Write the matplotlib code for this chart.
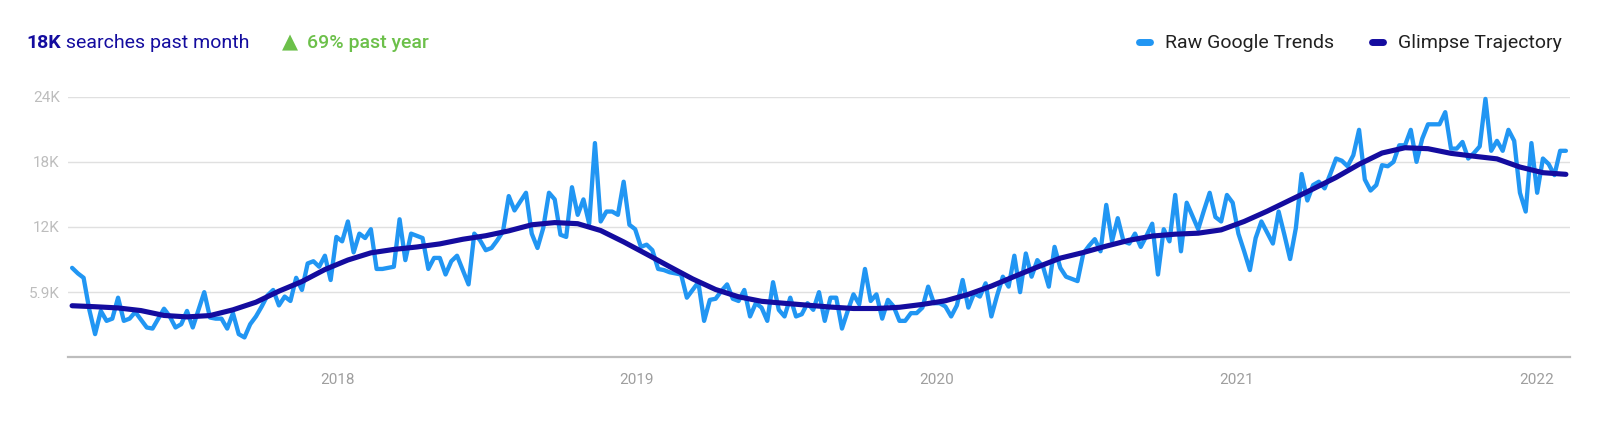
import matplotlib
matplotlib.use("Agg")
import matplotlib.pyplot as plt
from matplotlib.lines import Line2D
import pandas as pd

# ---------------- data (values in thousands of searches) ----------------
start_date = "2017-02-12"          # first weekly point
raw_k = [
    8.1, 7.6, 7.2, 4.3, 2.1, 4.2, 3.3, 3.5, 5.4, 3.3,
    3.5, 4.1, 3.4, 2.7, 2.6, 3.5, 4.4, 3.7, 2.7, 3.0,
    4.2, 2.7, 4.3, 5.9, 3.6, 3.5, 3.5, 2.6, 4.0, 2.1,
    1.8, 3.0, 3.7, 4.6, 5.6, 6.1, 4.7, 5.5, 5.1, 7.2,
    6.1, 8.5, 8.7, 8.2, 9.2, 7.0, 10.9, 10.5, 12.3, 9.5,
    11.2, 10.8, 11.6, 8.0, 8.0, 8.1, 8.2, 12.5, 8.8, 11.2,
    11.0, 10.8, 8.0, 9.0, 9.0, 7.5, 8.7, 9.2, 7.9, 6.6,
    11.2, 10.6, 9.7, 9.9, 10.6, 11.4, 14.6, 13.3, 14.1, 14.9,
    11.2, 9.9, 11.7, 14.9, 14.3, 11.1, 10.9, 15.4, 12.9, 14.3,
    12.1, 19.4, 12.3, 13.2, 13.2, 12.9, 15.9, 12.0, 11.6, 10.0,
    10.2, 9.7, 8.0, 7.9, 7.7, 7.6, 7.5, 5.4, 6.1, 6.8,
    3.3, 5.2, 5.3, 6.0, 6.6, 5.3, 5.1, 6.1, 3.7, 4.9,
    4.5, 3.3, 6.8, 4.3, 3.7, 5.4, 3.7, 3.9, 4.9, 4.3,
    5.9, 3.3, 5.4, 5.4, 2.6, 4.2, 5.7, 4.8, 8.0, 5.1,
    5.7, 3.5, 5.2, 4.6, 3.3, 3.3, 4.0, 4.0, 4.5, 6.4,
    4.9, 4.9, 4.6, 3.7, 4.7, 7.0, 4.5, 5.8, 5.5, 6.7,
    3.7, 5.6, 7.3, 6.4, 9.2, 5.9, 9.4, 7.3, 8.8, 8.2,
    6.4, 10.0, 8.1, 7.3, 7.1, 6.9, 9.4, 10.1, 10.7, 9.6,
    13.8, 10.5, 12.6, 10.5, 10.3, 11.2, 10.0, 11.0, 12.1, 7.5,
    11.6, 10.5, 14.7, 9.6, 14.0, 12.8, 11.6, 13.3, 14.9, 12.7,
    12.3, 14.7, 14.0, 11.2, 9.6, 7.9, 10.8, 12.3, 11.3, 10.3,
    13.2, 11.1, 8.9, 11.7, 16.6, 14.2, 15.6, 15.9, 15.3, 16.6,
    18.0, 17.8, 17.3, 18.3, 20.6, 16.1, 15.1, 15.6, 17.4, 17.3,
    17.7, 19.2, 19.2, 20.6, 17.7, 19.8, 21.1, 21.1, 21.1, 22.2,
    18.9, 18.9, 19.5, 18.0, 18.5, 19.1, 23.4, 18.7, 19.6, 18.7,
    20.6, 19.6, 14.9, 13.2, 19.4, 14.9, 18.0, 17.5, 16.5, 18.7, 18.7,
]
traj_step_weeks = 4
traj_k = [
    4.67, 4.58, 4.47, 4.23, 3.79, 3.66, 3.78, 4.30, 4.99, 5.99,
    6.86, 7.95, 8.81, 9.46, 9.77, 9.99, 10.27, 10.69, 11.01, 11.45,
    12.00, 12.20, 12.10, 11.48, 10.45, 9.34, 8.21, 7.10, 6.14, 5.48,
    5.07, 4.89, 4.72, 4.55, 4.42, 4.42, 4.53, 4.79, 5.12, 5.70,
    6.45, 7.32, 8.17, 8.98, 9.49, 10.07, 10.60, 10.98, 11.15, 11.24,
    11.54, 12.30, 13.23, 14.24, 15.25, 16.29, 17.48, 18.50, 18.98, 18.89,
    18.47, 18.21, 17.97, 17.23, 16.72, 16.57,
]
year_ticks = ["2018-01-01", "2019-01-01", "2020-01-01", "2021-01-01", "2022-01-01"]
year_labels = ["2018", "2019", "2020", "2021", "2022"]
y_ticks = [0, 5.9, 11.8, 17.7, 23.6]
y_labels = ["", "5.9K", "12K", "18K", "24K"]
header_value = "18K"
header_text = " searches past month"
growth_text = "69% past year"
series_names = ["Raw Google Trends", "Glimpse Trajectory"]

# ---------------- style ----------------
RAW_C = "#2196f3"
TRAJ_C = "#140c9f"
GREEN = "#6cc04a"
FONT = ["Roboto", "DejaVu Sans"]
plt.rcParams["font.family"] = FONT

W, H = 1600, 425
fig = plt.figure(figsize=(W / 100, H / 100), dpi=100)
fig.patch.set_facecolor("white")

ax_left, ax_right, ax_top, ax_bot = 68, 1570, 96.7, 357.3
ax = fig.add_axes([ax_left / W, 1 - ax_bot / H, (ax_right - ax_left) / W, (ax_bot - ax_top) / H])

dates = pd.date_range(start_date, periods=len(raw_k), freq="7D")
traj_dates = dates[::traj_step_weeks][:len(traj_k)]

ax.plot(dates, raw_k, color=RAW_C, lw=3.1, solid_joinstyle="round",
        solid_capstyle="round", clip_on=False, zorder=3)
ax.plot(traj_dates, traj_k[:len(traj_dates)], color=TRAJ_C, lw=3.7,
        solid_joinstyle="round", solid_capstyle="round", clip_on=False, zorder=4)

pad = pd.Timedelta(days=5)
ax.set_xlim(dates[0] - pad, dates[-1] + pad)
ax.set_ylim(0, 23.6)

ax.set_yticks(y_ticks)
ax.set_yticklabels(y_labels)
ax.set_xticks(pd.to_datetime(year_ticks))
ax.set_xticklabels(year_labels)
ax.tick_params(axis="y", length=0, pad=6, labelsize=11, labelcolor="#bdbdbd")
ax.tick_params(axis="x", length=0, pad=11, labelsize=11, labelcolor="#9e9e9e")
ax.grid(axis="y", color="#e0e0e0", lw=1.0, zorder=0)
ax.grid(axis="x", visible=False)
for s in ["top", "right", "left"]:
    ax.spines[s].set_visible(False)
ax.spines["bottom"].set_color("#bdbdbd")
ax.spines["bottom"].set_linewidth(1.6)
ax.spines["bottom"].set_zorder(5)
ax.set_facecolor("white")

# ---------------- header ----------------
fig.canvas.draw()
renderer = fig.canvas.get_renderer()
base_y = 1 - 48.3 / H

def put(txt, x_px, **kw):
    t = fig.text(x_px / W, base_y, txt, va="baseline", ha="left", **kw)
    bb = t.get_window_extent(renderer)
    return bb.x1 * W / fig.bbox.width

x = put(header_value, 26, fontsize=14, fontweight="bold", color=TRAJ_C)
put(header_text, x, fontsize=14, color=TRAJ_C)

put("▲", 282, fontsize=15, color=GREEN, family=FONT[::-1])
put(growth_text, 307, fontsize=14, color=GREEN, fontweight="medium")

# legend
mid_y = 1 - 42 / H
for (x0, x1), col, name, tx in [((1138.5, 1149.5), RAW_C, series_names[0], 1165),
                               ((1372, 1383), TRAJ_C, series_names[1], 1398)]:
    fig.add_artist(Line2D([x0 / W, x1 / W], [mid_y, mid_y], color=col, lw=5.0,
                          solid_capstyle="round", transform=fig.transFigure))
    put(name, tx, fontsize=14, color="#212121")

fig.savefig("out.png", dpi=100, facecolor="white")
